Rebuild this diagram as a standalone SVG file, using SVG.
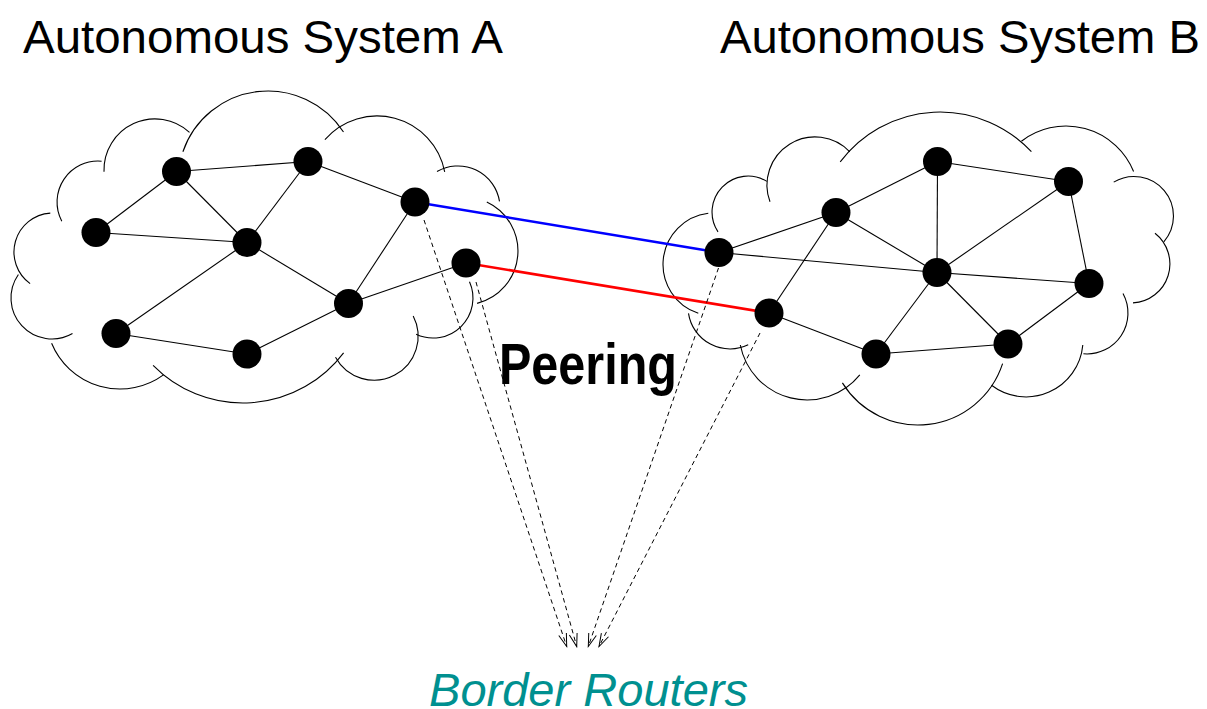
<svg xmlns="http://www.w3.org/2000/svg" width="1207" height="709" viewBox="0 0 1207 709">
<style>
.cloud path{fill:none;stroke:#000;stroke-width:1.1}
.edge{stroke:#000;stroke-width:1.1}
.node{fill:#000}
.dash{stroke:#000;stroke-width:1;stroke-dasharray:4.5 3.5;fill:none;marker-end:url(#ah)}
.title{font-family:"Liberation Sans",Arial,sans-serif;font-size:47px;fill:#000}
</style>
<defs>
<marker id="ah" markerWidth="16" markerHeight="12" refX="14" refY="5" orient="auto" markerUnits="userSpaceOnUse" viewBox="0 0 16 10">
<path d="M1,1 L14,5 L1,9" fill="none" stroke="#000" stroke-width="1"/>
</marker>
</defs>
<rect width="1207" height="709" fill="#fff"/>
<g id="cloud-A" class="cloud">
<path d="M72.5,333.5 A41,41 0 0 1 18.4,274.5"/>
<path d="M30.1,283.6 A39,39 0 0 1 50.3,213.1"/>
<path d="M61.8,221.2 A41,41 0 0 1 101.6,161.2"/>
<path d="M104,171.8 A51,51 0 0 1 189.5,132.4"/>
<path d="M182.9,151.7 A90,90 0 0 1 343.5,132"/>
<path d="M324.9,139.7 A69,69 0 0 1 444.7,171.8"/>
<path d="M437,171.6 A42,42 0 0 1 499.5,201.4"/>
<path d="M486.8,202.1 A54,54 0 0 1 477.1,303.4"/>
<path d="M469.5,281.7 A40,40 0 0 1 416.1,334.3"/>
<path d="M413.2,316 A44,44 0 0 1 335.5,357.3"/>
<path d="M343.6,352.8 A126,126 0 0 1 153.1,365.3"/>
<path d="M163.5,374.9 A74,74 0 0 1 51.6,343.3"/>
</g>
<g id="cloud-B" class="cloud">
<path d="M698.3,313.3 A51.5,51.5 0 0 1 708.3,213.3"/>
<path d="M718,231.9 A36,36 0 0 1 766.9,181.4"/>
<path d="M770,201.7 A48,48 0 0 1 849.8,151.9"/>
<path d="M840.2,161.8 A125,125 0 0 1 1031.4,151.7"/>
<path d="M1021.4,141.2 A73,73 0 0 1 1133.6,171.5"/>
<path d="M1113.7,182.1 A39.5,39.5 0 0 1 1163.8,241.9"/>
<path d="M1155,233.3 A39,39 0 0 1 1133,302.9"/>
<path d="M1123,293.4 A41,41 0 0 1 1083.4,353.8"/>
<path d="M1082.8,345 A57,57 0 0 1 991.5,385.3"/>
<path d="M1002.6,363.7 A89,89 0 0 1 842.4,382.9"/>
<path d="M859.8,374.8 A68,68 0 0 1 740.3,345"/>
<path d="M748.2,344.8 A42,42 0 0 1 688.5,313.3"/>
</g>
<g id="connectors">
<line class="edge" x1="176.5" y1="171.5" x2="308" y2="161.5"/>
<line class="edge" x1="176.5" y1="171.5" x2="96" y2="232.5"/>
<line class="edge" x1="176.5" y1="171.5" x2="247" y2="242.5"/>
<line class="edge" x1="308" y1="161.5" x2="247" y2="242.5"/>
<line class="edge" x1="308" y1="161.5" x2="415" y2="202"/>
<line class="edge" x1="96" y1="232.5" x2="247" y2="242.5"/>
<line class="edge" x1="247" y1="242.5" x2="116" y2="333.5"/>
<line class="edge" x1="247" y1="242.5" x2="348.5" y2="303.5"/>
<line class="edge" x1="415" y1="202" x2="348.5" y2="303.5"/>
<line class="edge" x1="466" y1="263" x2="348.5" y2="303.5"/>
<line class="edge" x1="348.5" y1="303.5" x2="247" y2="354"/>
<line class="edge" x1="116" y1="333.5" x2="247" y2="354"/>
<line class="edge" x1="836" y1="212.5" x2="937.5" y2="161.5"/>
<line class="edge" x1="937.5" y1="161.5" x2="1068.5" y2="181.5"/>
<line class="edge" x1="937.5" y1="161.5" x2="937" y2="272.5"/>
<line class="edge" x1="1068.5" y1="181.5" x2="937" y2="272.5"/>
<line class="edge" x1="1068.5" y1="181.5" x2="1089" y2="283.5"/>
<line class="edge" x1="719" y1="252.5" x2="836" y2="212.5"/>
<line class="edge" x1="719" y1="252.5" x2="937" y2="272.5"/>
<line class="edge" x1="836" y1="212.5" x2="937" y2="272.5"/>
<line class="edge" x1="836" y1="212.5" x2="769" y2="313"/>
<line class="edge" x1="769" y1="313" x2="876" y2="354"/>
<line class="edge" x1="937" y1="272.5" x2="876" y2="354"/>
<line class="edge" x1="937" y1="272.5" x2="1008" y2="344"/>
<line class="edge" x1="937" y1="272.5" x2="1089" y2="283.5"/>
<line class="edge" x1="876" y1="354" x2="1008" y2="344"/>
<line class="edge" x1="1008" y1="344" x2="1089" y2="283.5"/>
<line x1="415" y1="202" x2="719" y2="252.5" stroke="#0000ff" stroke-width="2.6"/>
<line x1="466" y1="263" x2="769" y2="313" stroke="#ff0000" stroke-width="2.6"/>
<line class="dash" x1="424" y1="220" x2="566.7" y2="646.5"/>
<line class="dash" x1="476" y1="282" x2="576.7" y2="646.5"/>
<line class="dash" x1="718.5" y1="268" x2="588.3" y2="646.5"/>
<line class="dash" x1="760" y1="333" x2="599" y2="646.5"/>
</g>
<g id="nodes-A">
<circle id="a1" class="node" cx="176.5" cy="171.5" r="14.5"/>
<circle id="a2" class="node" cx="308" cy="161.5" r="14.5"/>
<circle id="a3" class="node" cx="415" cy="202" r="14.5"/>
<circle id="a4" class="node" cx="96" cy="232.5" r="14.5"/>
<circle id="a5" class="node" cx="247" cy="242.5" r="14.5"/>
<circle id="a6" class="node" cx="466" cy="263" r="14.5"/>
<circle id="a7" class="node" cx="348.5" cy="303.5" r="14.5"/>
<circle id="a8" class="node" cx="116" cy="333.5" r="14.5"/>
<circle id="a9" class="node" cx="247" cy="354" r="14.5"/>
</g>
<g id="nodes-B">
<circle id="b1" class="node" cx="937.5" cy="161.5" r="14.5"/>
<circle id="b2" class="node" cx="1068.5" cy="181.5" r="14.5"/>
<circle id="b3" class="node" cx="836" cy="212.5" r="14.5"/>
<circle id="b4" class="node" cx="719" cy="252.5" r="14.5"/>
<circle id="b5" class="node" cx="937" cy="272.5" r="14.5"/>
<circle id="b6" class="node" cx="1089" cy="283.5" r="14.5"/>
<circle id="b7" class="node" cx="769" cy="313" r="14.5"/>
<circle id="b8" class="node" cx="876" cy="354" r="14.5"/>
<circle id="b9" class="node" cx="1008" cy="344" r="14.5"/>
</g>
<g id="labels">
<text class="title" x="23" y="53" textLength="480" lengthAdjust="spacingAndGlyphs">Autonomous System A</text>
<text class="title" x="720" y="53" textLength="480" lengthAdjust="spacingAndGlyphs">Autonomous System B</text>
<text x="499" y="384" font-family="'Liberation Sans Narrow','Liberation Sans',Arial,sans-serif" font-weight="bold" font-size="58" textLength="178" lengthAdjust="spacingAndGlyphs" fill="#000">Peering</text>
<text x="429" y="706" font-family="'Liberation Sans',Arial,sans-serif" font-style="italic" font-size="46" textLength="319" lengthAdjust="spacingAndGlyphs" fill="#009090">Border Routers</text>
</g>
</svg>
